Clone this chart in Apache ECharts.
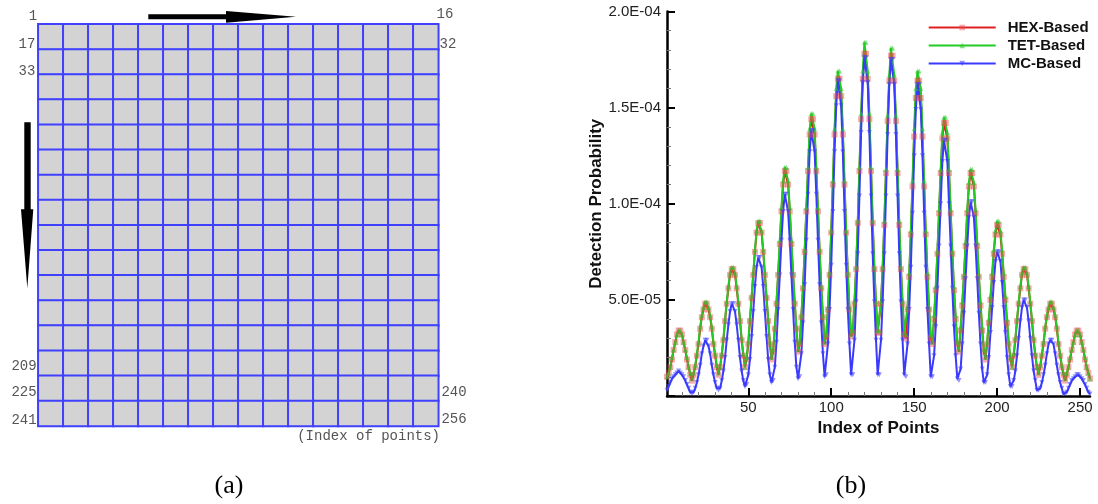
<!DOCTYPE html>
<html>
<head>
<meta charset="utf-8">
<script src="https://cdn.jsdelivr.net/npm/echarts@6/dist/echarts.min.js"></script>
<style>
html,body{margin:0;padding:0;background:#fff;}
#chart{width:1098px;height:504px;}
</style>
</head>
<body>
<div id="chart"></div>
<script>
// ---------- data (detection probability, units of 1e-6) ----------
const SERIES_NAMES = ['HEX-Based', 'TET-Based', 'MC-Based'];

const HEX_BASED = [
  10,12,15,19,24,28,32,34,34,32,28,24,19,15,11,8,
  11,15,21,27,35,41,45,48,48,45,41,35,27,21,15,11,
  15,21,29,39,48,56,63,66,66,63,56,48,39,29,21,15,
  19,27,39,51,63,75,85,90,90,85,75,63,51,39,27,19,
  23,35,48,63,79,96,110,117,117,110,96,79,63,48,35,23,
  27,41,56,75,96,117,136,144,144,136,117,96,75,56,41,27,
  31,45,63,85,110,136,156,165,165,156,136,110,85,63,45,31,
  33,48,66,90,117,144,165,178,178,165,144,117,90,66,48,33,
  33,48,66,89,116,143,164,177,177,164,143,116,89,66,48,32,
  30,45,62,84,109,135,155,164,164,155,135,109,84,62,45,30,
  27,40,55,74,95,116,134,142,142,134,116,95,74,55,40,27,
  23,34,47,62,78,95,109,116,116,109,95,78,62,47,34,23,
  19,27,38,50,62,74,84,89,89,84,74,62,50,38,27,19,
  15,21,29,39,48,56,63,66,66,63,56,48,39,29,21,15,
  11,15,21,27,35,41,45,48,48,45,41,35,27,21,15,11,
  8,11,15,19,24,28,32,34,34,32,28,24,19,15,12,9
];

const TET_BASED = [
  10,12,15,20,24,28,32,34,34,32,28,24,20,15,12,9,
  12,16,22,28,36,42,46,49,49,46,42,36,28,22,16,12,
  15,22,30,40,49,57,64,67,67,64,57,49,40,30,22,15,
  20,28,40,52,64,76,86,91,91,86,76,64,52,40,28,20,
  24,36,49,64,81,98,112,119,119,112,98,81,64,49,36,24,
  28,42,57,76,98,119,139,147,147,139,119,98,76,57,42,28,
  32,46,64,86,112,139,160,169,169,160,139,112,86,64,46,32,
  34,49,67,91,119,147,169,184,184,169,147,119,91,67,49,34,
  34,49,67,91,118,146,167,181,181,167,146,118,91,67,49,33,
  32,46,64,86,112,139,160,169,169,160,139,112,86,64,46,32,
  28,42,57,75,97,118,137,145,145,137,118,97,75,57,42,28,
  24,36,49,63,80,97,111,118,118,111,97,80,63,49,36,24,
  20,28,40,52,64,76,86,91,91,86,76,64,52,40,28,20,
  15,22,30,40,49,57,64,67,67,64,57,49,40,30,22,15,
  12,16,22,28,36,42,46,49,49,46,42,36,28,22,16,12,
  9,12,15,20,24,28,32,34,34,32,28,24,20,15,12,9
];

const MC_BASED = [
  3,5,7,9,10,11,12,13,12,11,10,8,6,4,2,1,
  2,4,7,11,16,22,26,29,29,26,22,16,11,7,4,3,
  4,8,13,20,29,37,44,48,48,44,37,29,20,13,8,5,
  6,11,19,31,44,57,67,72,72,67,57,44,31,19,11,7,
  8,15,28,45,63,81,96,105,105,96,81,63,45,28,15,9,
  10,22,38,58,81,105,127,138,138,127,105,81,58,38,22,10,
  11,27,45,68,96,127,151,164,164,151,127,96,68,45,27,11,
  11,29,49,74,104,137,163,176,176,163,137,104,74,49,29,11,
  11,29,49,74,104,136,162,175,175,162,136,104,74,49,29,11,
  10,27,45,67,95,125,149,162,162,149,125,95,67,45,27,10,
  10,21,36,56,78,100,122,133,133,122,100,78,56,36,21,9,
  8,14,27,43,61,78,93,101,101,93,78,61,43,27,14,7,
  7,11,20,33,46,59,70,75,75,70,59,46,33,20,11,5,
  5,8,13,21,30,39,46,50,50,46,39,30,21,13,8,3,
  3,4,7,11,16,22,27,29,29,27,22,16,11,7,4,1,
  1,2,4,6,8,9,10,11,11,10,9,8,6,4,2,1
];

const X_MAJOR_TICKS = [50, 100, 150, 200, 250];
const X_MINOR_TICKS = [10,20,30,40,60,70,80,90,110,120,130,140,160,170,180,190,210,220,230,240];
const GRID_SIZE = 16;
const CORNER_LABELS = ['1','16','17','32','33','209','225','240','241','256'];

// ---------- build ----------
const POINT_INDEX = HEX_BASED.map((_, i) => i + 1);
const pairs = arr => arr.map((v, i) => [POINT_INDEX[i], v]);

const cellCats = Array.from({length: GRID_SIZE}, (_, i) => String(i + 1));
const heatData = [];
for (let r = 0; r < GRID_SIZE; r++) {
  for (let c = 0; c < GRID_SIZE; c++) heatData.push([c, r, r * GRID_SIZE + c + 1]);
}

function fmtE(v) {
  if (v === 0) return '';
  const s = (v * 1e-6).toExponential(1);
  const parts = s.split('e');
  const e = parseInt(parts[1], 10);
  return parts[0] + 'E' + (e < 0 ? '-' : '+') + String(Math.abs(e)).padStart(2, '0');
}

const SANS = 'Liberation Sans, Arial, sans-serif';
const MONO = 'Liberation Mono, Courier New, monospace';

function txt(text, x, y, align, font, color) {
  return {
    type: 'text', x: x, y: y, silent: true,
    style: { text: text, font: font, fill: color || '#555', textAlign: align, align: align,
             textVerticalAlign: 'middle', verticalAlign: 'middle' }
  };
}
const monoFont = '14px ' + MONO;
const labelPos = [
  [33, 16, 'center'], [445, 14, 'center'], [27, 44.3, 'center'], [448, 44.3, 'center'],
  [27, 71.7, 'center'], [24, 366, 'center'], [24, 392.7, 'center'], [454, 392.7, 'center'],
  [24, 420, 'center'], [454, 419, 'center']
];
const graphics = CORNER_LABELS.map((t, i) => txt(t, labelPos[i][0], labelPos[i][1], labelPos[i][2], monoFont));
graphics.push(txt('(Index of points)', 440, 436.7, 'right', monoFont));
graphics.push(txt('(a)', 229, 486, 'center', '26px Liberation Serif, Times New Roman, serif', '#000'));
graphics.push(txt('(b)', 851, 486, 'center', '26px Liberation Serif, Times New Roman, serif', '#000'));
graphics.push({
  type: 'polygon', silent: true,
  shape: { points: [[148.3,14.3],[226,14.3],[226,11],[296,16.7],[226,22.7],[226,19.3],[148.3,19.3]] },
  style: { fill: '#000' }
});
graphics.push({
  type: 'polygon', silent: true,
  shape: { points: [[24.3,122.3],[30.7,122.3],[30.7,209.3],[33.3,209.3],[27.3,288.3],[21,209.3],[24.3,209.3]] },
  style: { fill: '#000' }
});

const chart = echarts.init(document.getElementById('chart'), null, {renderer: 'canvas'});

const lineColors = ['#e02020', '#22cc22', '#3a3aff'];
const markColors = ['rgba(235,70,70,0.45)', 'rgba(40,200,40,0.55)', 'rgba(60,60,255,0.55)'];

chart.setOption({
  animation: false,
  backgroundColor: '#fff',
  grid: [
    { left: 38.3, top: 24.3, width: 400, height: 401.7 },
    { left: 667, top: 11.5, width: 423, height: 384.5 }
  ],
  visualMap: {
    show: false, seriesIndex: 0, min: 1, max: 256,
    inRange: { color: ['#d3d3d3', '#d3d3d3'] }
  },
  legend: {
    data: SERIES_NAMES,
    orient: 'vertical',
    left: 922.7, top: 13.5,
    itemWidth: 67, itemHeight: 7, itemGap: 0,
    textStyle: { fontFamily: SANS, fontWeight: 'bold', fontSize: 15, color: '#111', lineHeight: 18, padding: [0,0,0,7] }
  },
  xAxis: [
    { type: 'category', gridIndex: 0, data: cellCats, show: false },
    {
      type: 'value', gridIndex: 1, min: 1, max: 256, position: 'bottom',
      splitLine: { show: false },
      axisLine: { show: true, lineStyle: { color: '#000', width: 2.5 } },
      axisTick: { show: true, inside: true, length: 8, lineStyle: { color: '#000', width: 2 }, customValues: X_MAJOR_TICKS },
      axisLabel: { customValues: X_MAJOR_TICKS, margin: 4, fontFamily: SANS, fontSize: 15, color: '#222' },
      name: 'Index of Points', nameLocation: 'middle', nameGap: 18,
      nameTextStyle: { fontFamily: SANS, fontWeight: 'bold', fontSize: 17, color: '#111' }
    },
    {
      type: 'value', gridIndex: 1, min: 1, max: 256, position: 'bottom', offset: 0,
      splitLine: { show: false },
      axisLine: { show: false },
      axisTick: { show: true, inside: true, length: 4, lineStyle: { color: '#777', width: 1 }, customValues: X_MINOR_TICKS },
      axisLabel: { show: false }
    }
  ],
  yAxis: [
    { type: 'category', gridIndex: 0, data: cellCats, inverse: true, show: false },
    {
      type: 'value', gridIndex: 1, min: 0, max: 200, interval: 50,
      splitLine: { show: false },
      axisLine: { show: true, lineStyle: { color: '#000', width: 2.5 } },
      axisTick: { show: true, inside: true, length: 8, lineStyle: { color: '#000', width: 2 } },
      minorTick: { show: true, splitNumber: 5, length: 4, lineStyle: { color: '#777', width: 1 } },
      axisLabel: { formatter: fmtE, margin: 6, fontFamily: SANS, fontSize: 15, color: '#222' },
      name: 'Detection Probability', nameLocation: 'middle', nameGap: 62,
      nameTextStyle: { fontFamily: SANS, fontWeight: 'bold', fontSize: 17, color: '#111' }
    }
  ],
  series: [
    {
      type: 'heatmap', xAxisIndex: 0, yAxisIndex: 0, data: heatData,
      itemStyle: { borderColor: '#4040ff', borderWidth: 2 },
      emphasis: { disabled: true }, silent: true
    },
    {
      name: SERIES_NAMES[0], type: 'line', xAxisIndex: 1, yAxisIndex: 1,
      data: pairs(HEX_BASED), symbol: 'rect', symbolSize: 6, showSymbol: true,
      lineStyle: { color: lineColors[0], width: 2 }, itemStyle: { color: markColors[0] }
    },
    {
      name: SERIES_NAMES[1], type: 'line', xAxisIndex: 1, yAxisIndex: 1,
      data: pairs(TET_BASED), symbol: 'triangle', symbolSize: 5, showSymbol: true,
      lineStyle: { color: lineColors[1], width: 2 }, itemStyle: { color: markColors[1] }
    },
    {
      name: SERIES_NAMES[2], type: 'line', xAxisIndex: 1, yAxisIndex: 1,
      data: pairs(MC_BASED), symbol: 'triangle', symbolRotate: 180, symbolSize: 5, showSymbol: true,
      lineStyle: { color: lineColors[2], width: 2 }, itemStyle: { color: markColors[2] }
    }
  ],
  graphic: graphics
});
</script>
</body>
</html>
